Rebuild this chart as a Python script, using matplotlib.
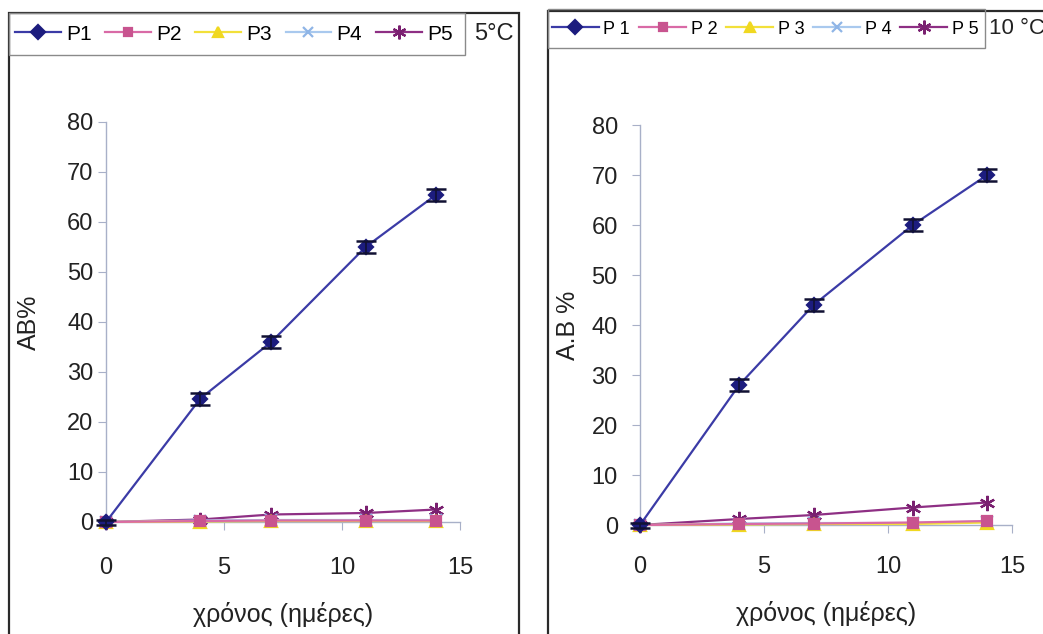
import matplotlib
matplotlib.use("Agg")
import matplotlib.pyplot as plt
from matplotlib.patches import Rectangle

plt.rcParams["font.family"] = ["Liberation Sans", "DejaVu Sans"]

# ── data ───────────────────────────────────────────────────────────────────────
days = [0, 4, 7, 11, 14]

p1_5c = [0.0, 24.7, 36.0, 55.0, 65.5]
p2_5c = [0.0, 0.2, 0.3, 0.3, 0.3]
p3_5c = [0.0, 0.1, 0.2, 0.2, 0.2]
p4_5c = [0.0, 0.3, 0.4, 0.4, 0.4]
p5_5c = [0.0, 0.5, 1.5, 1.8, 2.5]
p1_5c_err = [0.5, 1.2, 1.2, 1.2, 1.2]

p1_10c = [0.0, 28.0, 44.0, 60.0, 70.0]
p2_10c = [0.0, 0.2, 0.3, 0.5, 0.8]
p3_10c = [0.0, 0.1, 0.2, 0.2, 0.5]
p4_10c = [0.0, 0.3, 0.4, 0.4, 0.7]
p5_10c = [0.0, 1.2, 2.0, 3.5, 4.5]
p1_10c_err = [0.5, 1.2, 1.2, 1.2, 1.2]

STYLE = [
    dict(color="#3b3ba6", mfc="#1c1c7e", mec="#1c1c7e", marker="D", ms=7.5),
    dict(color="#d96aa6", mfc="#c8548f", mec="#c8548f", marker="s", ms=7),
    dict(color="#f2e03a", mfc="#f0d820", mec="#f0d820", marker="^", ms=8),
    dict(color="#a9c9ee", mfc="#a9c9ee", mec="#8fb5e6", marker="x", ms=8),
    dict(color="#8e2f84", mfc="#7a2070", mec="#7a2070", marker=(6, 2, 0), ms=11),
]
SPINE = "#a8b0c8"
TXT = "#222222"


def draw_panel(ax, series, err, names, ylabel, ypad, xpad, ylab_x, xlab_y):
    handles = []
    for i, (vals, st, nm) in enumerate(zip(series, STYLE, names)):
        h, = ax.plot(days, vals, color=st["color"], lw=1.6, marker=st["marker"],
                     ms=st["ms"], mfc=st["mfc"], mec=st["mec"], mew=1.6,
                     clip_on=False, label=nm, zorder=5 - i)
        handles.append(h)
    ax.errorbar(days, series[0], yerr=err, fmt="none", ecolor="#111133",
                elinewidth=1.2, capsize=7, capthick=1.8, zorder=6, clip_on=False)

    ax.set_xlim(0, 15)
    ax.set_ylim(0, 80)
    ax.set_xticks([0, 5, 10, 15])
    ax.set_yticks(range(0, 81, 10))
    for s in ["top", "right"]:
        ax.spines[s].set_visible(False)
    for s in ["left", "bottom"]:
        ax.spines[s].set_color(SPINE)
        ax.spines[s].set_linewidth(1.0)
    ax.tick_params(direction="out", length=6, color=SPINE, labelsize=17,
                   labelcolor=TXT)
    ax.tick_params(axis="y", pad=ypad)
    ax.tick_params(axis="x", pad=xpad)
    ax.set_xlabel("χρόνος (ημέρες)", fontsize=18, color=TXT)
    ax.set_ylabel(ylabel, fontsize=18, color=TXT)
    ax.yaxis.set_label_coords(ylab_x, 0.5)
    ax.xaxis.set_label_coords(0.5, xlab_y)
    return handles


fig = plt.figure(figsize=(10.43, 6.34), dpi=100)
W, H = 1043, 634


def fx(px):
    return px / W


def fy(py):
    return 1 - py / H


# outer frames of the two panels
fig.patches.append(Rectangle((fx(9), fy(660)), fx(519 - 9), (660 - 13) / H,
                             transform=fig.transFigure, fill=False,
                             edgecolor="#2a2a2a", lw=1.6))
fig.patches.append(Rectangle((fx(548), fy(660)), fx(560), (660 - 11) / H,
                             transform=fig.transFigure, fill=False,
                             edgecolor="#2a2a2a", lw=1.6))

ax1 = fig.add_axes([fx(106), fy(522), fx(460 - 106), 400 / H])
ax2 = fig.add_axes([fx(640), fy(525), fx(1012 - 640), 400 / H])

h1 = draw_panel(ax1, [p1_5c, p2_5c, p3_5c, p4_5c, p5_5c], p1_5c_err,
                ["P1", "P2", "P3", "P4", "P5"], "AB%",
                ypad=3, xpad=19, ylab_x=-0.185, xlab_y=-0.2)
h2 = draw_panel(ax2, [p1_10c, p2_10c, p3_10c, p4_10c, p5_10c], p1_10c_err,
                ["P 1", "P 2", "P 3", "P 4", "P 5"], "A.B %",
                ypad=10, xpad=16, ylab_x=-0.16, xlab_y=-0.19)

# legend boxes
fig.patches.append(Rectangle((fx(9), fy(55)), fx(465 - 9), 42 / H,
                             transform=fig.transFigure, fill=False,
                             edgecolor="#8a8a8a", lw=1.0))
fig.patches.append(Rectangle((fx(548), fy(48)), fx(985 - 548), 39 / H,
                             transform=fig.transFigure, fill=False,
                             edgecolor="#8a8a8a", lw=1.0))

for hs, x0, yc, fs, hl, cs in [(h1, 15, 34, 15, 2.2, 0.65),
                               (h2, 552, 29, 13, 2.6, 0.5)]:
    fig.legend(handles=hs, loc="center left", ncol=5, frameon=False,
               bbox_to_anchor=(fx(x0), fy(yc)),
               bbox_transform=fig.transFigure, fontsize=fs,
               handlelength=hl, handletextpad=0.25, columnspacing=cs,
               borderpad=0, borderaxespad=0, markerscale=0.9)

fig.text(fx(474), fy(34), "5°C", fontsize=17, ha="left", va="center", color=TXT)
fig.text(fx(989), fy(29), "10 °C", fontsize=16, ha="left", va="center", color=TXT)

fig.savefig("out.png", dpi=100, facecolor="white")
